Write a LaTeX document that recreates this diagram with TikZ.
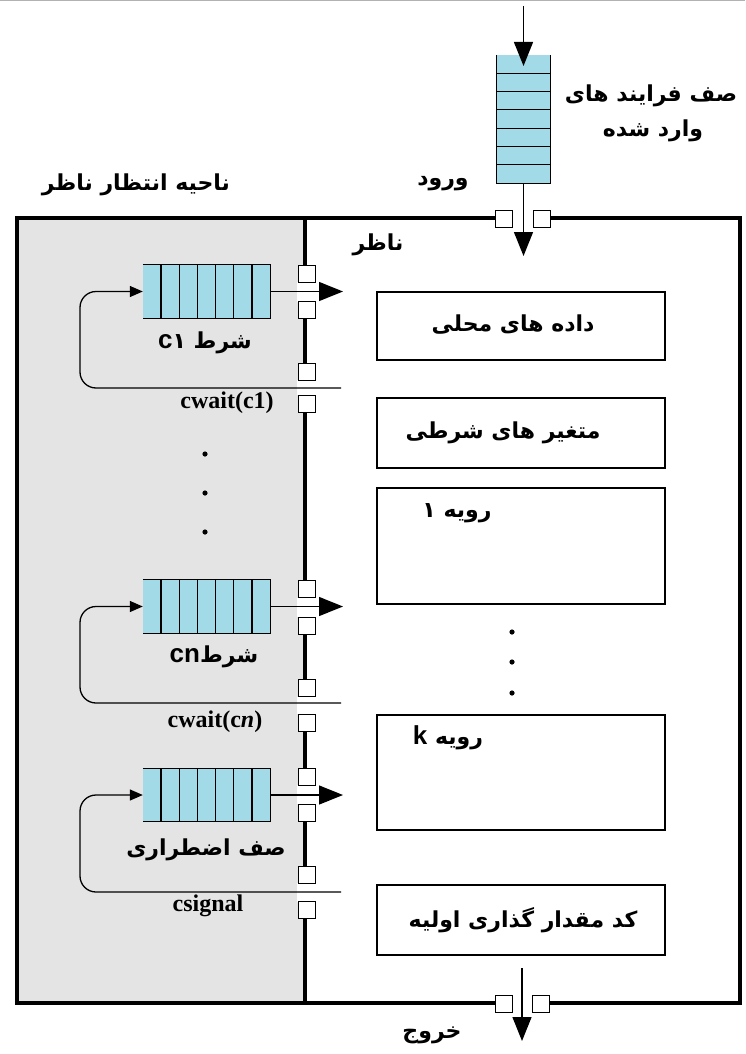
\documentclass[tikz,border=0pt]{standalone}
\usepackage{fontspec}
\setmainfont{Liberation Serif}
\newfontfamily\fa[Script=Arabic]{DejaVu Sans}
\newfontface\latbf{Liberation Sans Bold}
\TeXXeTstate=1
\usetikzlibrary{arrows.meta,calc}
\definecolor{qblue}{RGB}{163,218,232}
\definecolor{zone}{RGB}{228,228,228}
\tikzset{
  cq/.style={fill=qblue, inner sep=0, minimum width=127pt, minimum height=53pt},
  inq/.style={fill=qblue, inner sep=0, minimum width=53pt, minimum height=128pt},
  qline/.style={line width=1.2pt},
  port/.style={draw, fill=white, line width=1pt, minimum size=17pt, inner sep=0},
  gapw/.style={fill=white, draw=none},
  compbox/.style={draw, line width=2.5pt, inner sep=0},
  bigarr/.style={line width=1.3pt, -{Triangle[length=24pt,width=19pt]}},
  smallarr/.style={line width=1.3pt, rounded corners=16pt, -{Triangle[length=13pt,width=11pt]}},
  fatext/.style={font=\fa\bfseries\fontsize{22}{26}\selectfont, inner sep=0},
  cwtext/.style={font=\bfseries\fontsize{24}{28}\selectfont, inner sep=0},
  dotc/.style={fill=black}
}
\newcommand\latb{\latbf\fontsize{26}{28}\selectfont}
\newcommand\condqueue[3]{%
  \node[cq] (#1) at (#2,#3) {};
  \draw[qline] (#1.north west) -- (#1.north east) -- (#1.south east) -- (#1.south west);
  \foreach \i in {1,...,6}{\draw[qline] ($(#1.north west)!\i/7!(#1.north east)$) -- ($(#1.south west)!\i/7!(#1.south east)$);}
}
\begin{document}
\begin{tikzpicture}[x=1pt,y=-1pt]
\useasboundingbox (0,0) rectangle (745,1054);
\fill[white] (0,0) rectangle (745,1054);
\draw[gray!60, line width=1.5pt] (0,0.75) -- (745,0.75);

% waiting zone and outer frame
\fill[zone] (17,218) rectangle (305,1003);
\draw[line width=4pt] (17,218) rectangle (740,1003);
\draw[line width=4pt] (305,218) -- (305,1003);

% white gaps in frame lines
\fill[gapw] (511,214) rectangle (533,224);
\fill[gapw] (512,998) rectangle (532,1009);
\fill[gapw] (297,282) rectangle (316,302);
\fill[gapw] (297,380) rectangle (316,395);
\fill[gapw] (297,598) rectangle (316,617);
\fill[gapw] (297,697) rectangle (316,714);
\fill[gapw] (297,785) rectangle (316,804);
\fill[gapw] (297,883) rectangle (316,902);

% ports
\node[port] (pt1) at (504,219) {};
\node[port] (pt2) at (541.5,219) {};
\node[port] (pb1) at (504,1004) {};
\node[port] (pb2) at (541,1004) {};
\foreach \n/\y in {a1/274,a2/310,a3/371.5,a4/403.5,b1/589,b2/625.5,b3/687.5,b4/723,e1/776.5,e2/813,e3/874.5,e4/910}
  \node[port] (p\n) at (306.5,\y) {};

% input queue
\node[inq] (qin) at (523.5,119) {};
\draw[qline] (qin.north west) -- (qin.south west) -- (qin.south east) -- (qin.north east);
\foreach \i in {1,...,6}{\draw[qline] ($(qin.north west)!\i/7!(qin.south west)$) -- ($(qin.north east)!\i/7!(qin.south east)$);}
\coordinate (src) at (523.5,6);
\coordinate (qtip) at (523.5,66);
\coordinate (entry) at (523.5,256);
\draw[bigarr] (src) -- (qtip);
\draw[bigarr] (qin.south) -- (entry);

% condition queues
\condqueue{q1}{206.5}{291.5}
\condqueue{qn}{206.5}{606.5}
\condqueue{qe}{206.5}{795}

\coordinate (o1) at (343,291.5);
\coordinate (on) at (343,606.5);
\coordinate (oe) at (343,795);
\draw[bigarr] (q1.east) -- (o1);
\draw[bigarr] (qn.east) -- (on);
\draw[bigarr] (qe.east) -- (oe);

\coordinate (l1) at (341,388);
\coordinate (ln) at (341,703);
\coordinate (le) at (341,892);
\draw[smallarr] (l1) -- (80,388) -- (80,291.5) -- (q1.west);
\draw[smallarr] (ln) -- (80,703) -- (80,606.5) -- (qn.west);
\draw[smallarr] (le) -- (80,892) -- (80,795) -- (qe.west);

% monitor components
\node[compbox, minimum width=288pt, minimum height=68pt] (bx1) at (521,326) {};
\node[compbox, minimum width=288pt, minimum height=70pt] (bx2) at (521,433) {};
\node[compbox, minimum width=288pt, minimum height=116pt] (bx3) at (521,546) {};
\node[compbox, minimum width=288pt, minimum height=115pt] (bx4) at (521,772.5) {};
\node[compbox, minimum width=288pt, minimum height=70pt] (bx5) at (521,920) {};

\coordinate (xs) at (522,968);
\coordinate (xt) at (522,1041);
\draw[bigarr] (xs) -- (xt);

% dots
\foreach \y in {454,493,532} \fill[dotc] (205,\y) circle (2.6pt);
\foreach \y in {632,662,693} \fill[dotc] (512,\y) circle (2.6pt);

% texts
\node[fatext] (tq1) at (651,96) {\beginR صف فرایند های\endR};
\node[fatext] (tq2) at (653,131) {\beginR وارد شده\endR};
\node[fatext] (tin) at (443,184) {\beginR ورود\endR};
\node[fatext] (tzone) at (136,185) {\beginR ناحیه انتظار ناظر\endR};
\node[fatext] (tmon) at (378,245) {\beginR ناظر\endR};

\node[fatext] (tc1) at (205,343) {{\latb c}\beginR شرط ۱\endR};
\node[fatext] (tcn) at (214,657) {{\latb cn}\beginR شرط\endR};
\node[fatext] (tce) at (206,850) {\beginR صف اضطراری\endR};
\node[cwtext] (w1) at (227,403) {cwait(c1)};
\node[cwtext] (wn) at (215,722) {cwait(c\textit{n})};
\node[cwtext] (we) at (208,906) {csignal};

\node[fatext] (tb1) at (513,325) {\beginR داده های محلی\endR};
\node[fatext] (tb2) at (503,433) {\beginR متغیر های شرطی\endR};
\node[fatext] (tb3) at (457,513) {\beginR رویه ۱\endR};
\node[fatext] (tb4) at (448,738) {{\latb k} \beginR رویه\endR};
\node[fatext] (tb5) at (523,920) {\beginR کد مقدار گذاری اولیه\endR};
\node[fatext] (tout) at (432,1035) {\beginR خروج\endR};
\end{tikzpicture}
\end{document}
